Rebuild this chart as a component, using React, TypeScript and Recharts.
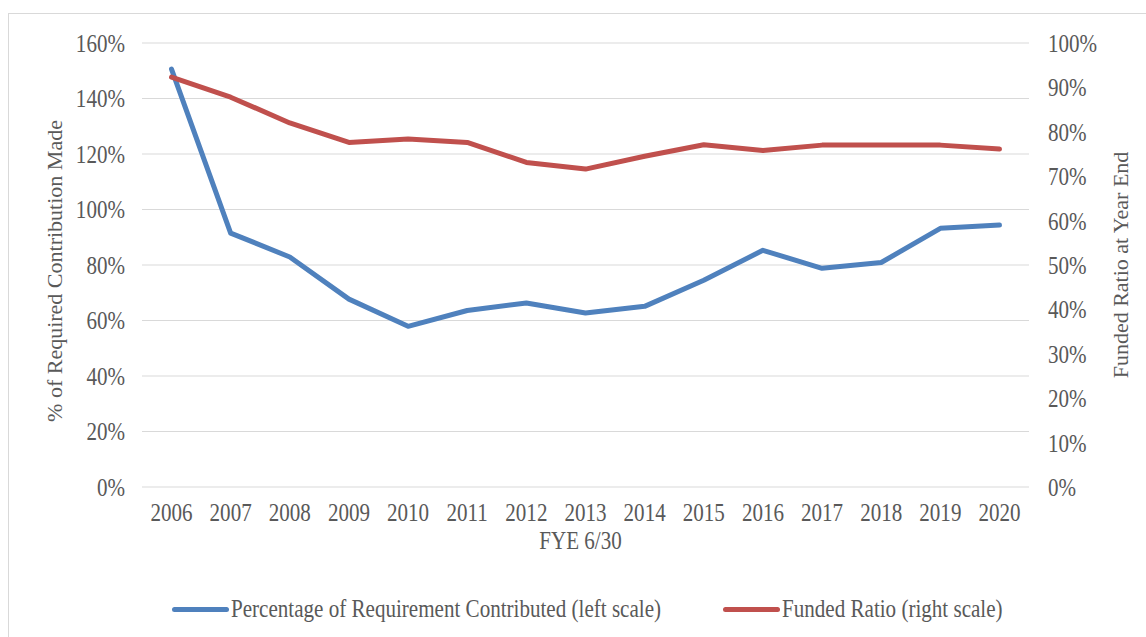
import { LineChart, Line, XAxis, YAxis, CartesianGrid, Legend } from 'recharts'

const years = ['2006', '2007', '2008', '2009', '2010', '2011', '2012', '2013', '2014', '2015', '2016', '2017', '2018', '2019', '2020']
const contributed = [150.6, 91.5, 82.9, 67.7, 57.9, 63.6, 66.3, 62.7, 65.1, 74.5, 85.3, 78.8, 80.9, 93.2, 94.4]
const funded = [92.3, 87.8, 82.0, 77.6, 78.4, 77.6, 73.1, 71.6, 74.5, 77.1, 75.8, 77.0, 77.0, 77.0, 76.1]
const leftTicks = [0, 20, 40, 60, 80, 100, 120, 140, 160]
const rightTicks = [0, 10, 20, 30, 40, 50, 60, 70, 80, 90, 100]
const seriesNames = ['Percentage of Requirement Contributed (left scale)', 'Funded Ratio (right scale)']

const FONT = '"Liberation Serif", "Times New Roman", serif'
const TEXT = '#595959'
const BLUE = '#4f81bd'
const RED = '#c0504d'
// the source text is a little condensed
const SX = 0.86
const FS = 24.5

const data = years.map((y, i) => ({ year: y, contributed: contributed[i], funded: funded[i] }))

function Tick({ x, y, payload, textAnchor, dy, suffix }: any) {
  return (
    <text
      transform={`translate(${x},${y}) scale(${SX},1)`}
      textAnchor={textAnchor}
      dy={dy}
      fontFamily={FONT}
      fontSize={FS}
      fill={TEXT}
    >
      {payload.value}
      {suffix}
    </text>
  )
}

function XTitle({ viewBox }: any) {
  const cx = viewBox.x + viewBox.width / 2 - 5
  return (
    <text transform={`translate(${cx},${viewBox.y + 62}) scale(${SX},1)`} textAnchor="middle" fontFamily={FONT} fontSize={FS} fill={TEXT}>
      FYE 6/30
    </text>
  )
}

function LegendContent({ payload }: any) {
  const items = [...(payload || [])].sort((a: any, b: any) => seriesNames.indexOf(a.value) - seriesNames.indexOf(b.value))
  const lefts = [172, 723]
  return (
    <div style={{ position: 'relative', height: 50, fontFamily: FONT, fontSize: FS, color: TEXT }}>
      {items.map((p: any, i: number) => (
        <div key={p.value} style={{ position: 'absolute', left: lefts[i], top: 6, height: 32, display: 'flex', alignItems: 'center', whiteSpace: 'nowrap' }}>
          <span style={{ display: 'inline-block', width: 57, height: 5, borderRadius: 3, background: p.color, marginRight: 2 }} />
          <span style={{ display: 'inline-block', transform: `scaleX(${SX})`, transformOrigin: 'left center', lineHeight: '32px' }}>{p.value}</span>
        </div>
      ))}
    </div>
  )
}

export default function App() {
  return (
    <div style={{ position: 'absolute', left: 0, top: 0, width: 1146, height: 637, overflow: 'hidden', background: '#fff', fontFamily: FONT }}>
      <div style={{ position: 'absolute', left: 8, top: 13, width: 1300, height: 800, border: '1px solid #d9d9d9' }} />
      <div style={{ position: 'absolute', left: 0, top: 0 }}>
        <LineChart width={1146} height={637} data={data} margin={{ top: 43, right: 0, bottom: 0, left: 0 }}>
          <CartesianGrid yAxisId="left" vertical={false} stroke="#d9d9d9" strokeWidth={1.2} />
          <XAxis
            dataKey="year"
            height={100}
            padding={{ left: 29.5, right: 29.5 }}
            axisLine={false}
            tickLine={false}
            tickSize={0}
            tickMargin={0}
            interval={0}
            tick={(p: any) => <Tick {...p} dy={34} suffix="" />}
            label={<XTitle />}
          />
          <YAxis
            yAxisId="left"
            width={142}
            domain={[0, 160]}
            ticks={leftTicks}
            axisLine={false}
            tickLine={false}
            tickSize={0}
            tickMargin={17}
            tick={(p: any) => <Tick {...p} textAnchor="end" dy={8.5} suffix="%" />}
            label={{ value: '% of Required Contribution Made', angle: -90, position: 'center', dx: -17, dy: 6, style: { fontFamily: FONT, fontSize: 22, fill: TEXT, textAnchor: 'middle' } }}
          />
          <YAxis
            yAxisId="right"
            orientation="right"
            width={117}
            domain={[0, 100]}
            ticks={rightTicks}
            axisLine={false}
            tickLine={false}
            tickSize={0}
            tickMargin={19}
            tick={(p: any) => <Tick {...p} textAnchor="start" dy={9} suffix="%" />}
            label={{ value: 'Funded Ratio at Year End', angle: -90, position: 'center', dx: 33, style: { fontFamily: FONT, fontSize: 22, fill: TEXT, textAnchor: 'middle' } }}
          />
          <Legend verticalAlign="bottom" height={50} content={<LegendContent />} />
          <Line
            yAxisId="left"
            type="linear"
            dataKey="contributed"
            name={seriesNames[0]}
            stroke={BLUE}
            strokeWidth={5}
            strokeLinecap="round"
            strokeLinejoin="round"
            dot={false}
            isAnimationActive={false}
          />
          <Line
            yAxisId="right"
            type="linear"
            dataKey="funded"
            name={seriesNames[1]}
            stroke={RED}
            strokeWidth={5}
            strokeLinecap="round"
            strokeLinejoin="round"
            dot={false}
            isAnimationActive={false}
          />
        </LineChart>
      </div>
    </div>
  )
}
